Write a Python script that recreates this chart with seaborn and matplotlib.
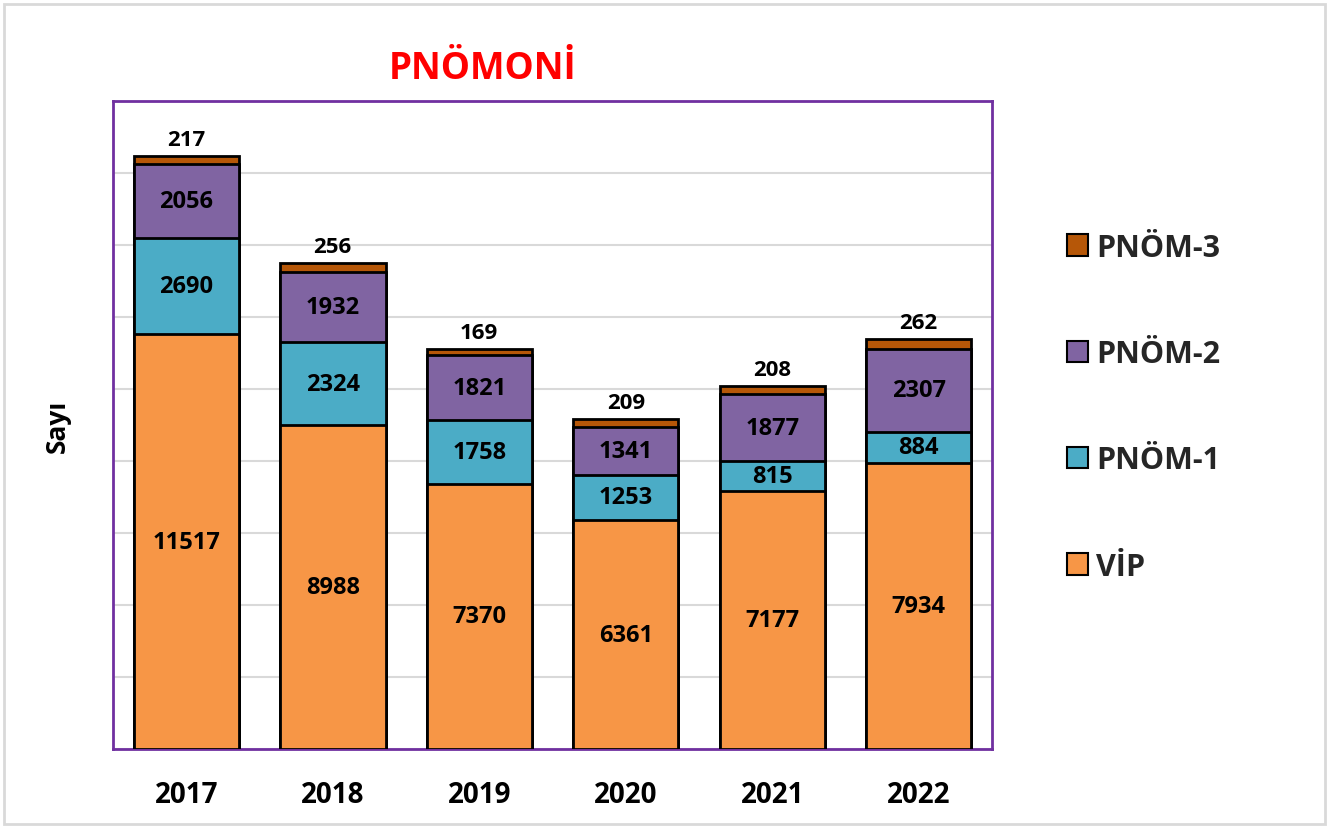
import numpy as np
import pandas as pd
import matplotlib
matplotlib.use("Agg")
import matplotlib.pyplot as plt
from matplotlib.patches import Rectangle, Patch
import seaborn as sns

# data
years = ["2017", "2018", "2019", "2020", "2021", "2022"]
vip = [11517, 8988, 7370, 6361, 7177, 7934]
pnom1 = [2690, 2324, 1758, 1253, 815, 884]
pnom2 = [2056, 1932, 1821, 1341, 1877, 2307]
pnom3 = [217, 256, 169, 209, 208, 262]

series_names = ["VİP", "PNÖM-1", "PNÖM-2", "PNÖM-3"]
colors = ["#F79646", "#4BACC6", "#8064A2", "#B65708"]

sns.set_theme(style="white")
plt.rcParams["font.family"] = ["Open Sans", "DejaVu Sans"]

df = pd.DataFrame({"year": years, "VİP": vip, "PNÖM-1": pnom1,
                   "PNÖM-2": pnom2, "PNÖM-3": pnom3})
cum = df[series_names].cumsum(axis=1)

fig = plt.figure(figsize=(13.36, 8.28), dpi=100)
ax = fig.add_axes([0.0846, 0.0942, 0.6579, 0.7826])

# draw cumulative bars from the top series down so each segment sits on the one below
for name, col in zip(series_names[::-1], colors[::-1]):
    sns.barplot(x=df["year"], y=cum[name], color=col, saturation=1,
                width=0.72, edgecolor="black", linewidth=2, ax=ax, zorder=3)

ax.set_ylim(0, 18000)
ax.set_xlim(-0.5, 5.5)
ax.set_yticks(np.arange(0, 18001, 2000))
ax.set_yticklabels([])
ax.yaxis.grid(True, color="#D9D9D9", linewidth=1.5, zorder=0)
ax.tick_params(axis="both", length=0)
ax.tick_params(axis="x", labelsize=20, pad=22, labelcolor="black")
for lab in ax.get_xticklabels():
    lab.set_fontweight("bold")
ax.set_xlabel("")
ax.set_ylabel("Sayı", fontsize=19, fontweight="bold", labelpad=27, color="black")
for sp in ax.spines.values():
    sp.set_color("#7030A0")
    sp.set_linewidth(2)

# value labels
for i in range(len(years)):
    base = 0
    for name in series_names[:3]:
        v = df[name][i]
        ax.text(i, base + v / 2, str(v), ha="center", va="center",
                fontsize=17, fontweight="bold", color="black", zorder=5)
        base += v
    ax.text(i, cum["PNÖM-3"][i] + 170, str(df["PNÖM-3"][i]), ha="center",
            va="bottom", fontsize=16, fontweight="bold", color="black", zorder=5)

fig.text(0.3615, 0.917, "PNÖMONİ", ha="center", va="center", fontsize=26.5,
         fontweight="bold", color="#FF0000")

handles = [Patch(facecolor=c, edgecolor="black", linewidth=1.5) for c in colors]
leg = fig.legend(handles[::-1], series_names[::-1], loc="center left",
                 bbox_to_anchor=(0.778, 0.507), frameon=False,
                 prop={"size": 22, "weight": "bold"}, labelspacing=2.5,
                 handlelength=0.7, handleheight=0.7, handletextpad=0.25)

# light outer chart border
fig.patches.append(Rectangle((0.003, 0.004), 0.989, 0.99, transform=fig.transFigure,
                             fill=False, edgecolor="#D9D9D9", linewidth=2))

fig.savefig("out.png", dpi=100, facecolor="white")
